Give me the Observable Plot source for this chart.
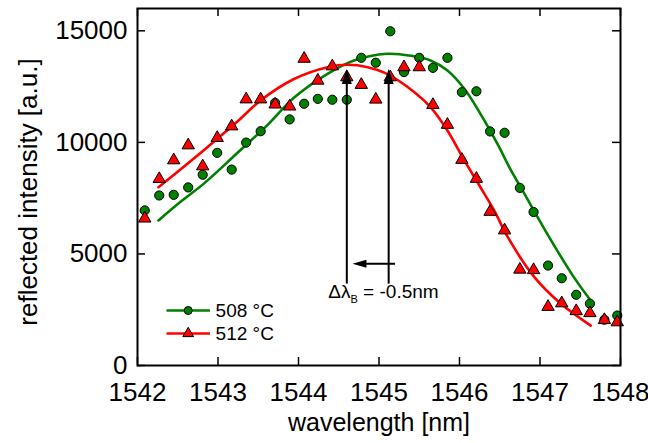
<!DOCTYPE html>
<html>
<head>
<meta charset="utf-8">
<script src="https://cdn.jsdelivr.net/npm/d3@7"></script>
<script src="https://cdn.jsdelivr.net/npm/@observablehq/plot@0.6"></script>
<style>
  html, body { margin: 0; padding: 0; background: #fff; }
  #chart { width: 648px; height: 443px; }
</style>
</head>
<body>
<div id="chart"></div>
<script>
// ---- data ----
const wavelengths = [1542.09, 1542.27, 1542.45, 1542.63, 1542.81, 1542.99, 1543.17, 1543.35, 1543.53, 1543.71,
  1543.89, 1544.07, 1544.24, 1544.42, 1544.60, 1544.78, 1544.96, 1545.14, 1545.31, 1545.50,
  1545.67, 1545.85, 1546.03, 1546.21, 1546.38, 1546.56, 1546.75, 1546.92, 1547.10, 1547.27,
  1547.45, 1547.62, 1547.80, 1547.96];
const intensity508 = [6950, 7620, 7650, 7980, 8550, 9530, 8780, 9990, 10500, 11770,
  11030, 11730, 11950, 11910, 11910, 13790, 13570, 14980, 13150, 13790,
  13340, 13790, 12250, 12290, 10490, 10430, 7960, 6880, 4480, 3910,
  3170, 2770, 2050, 2240];
const intensity512 = [6590, 8360, 9200, 9870, 8930, 10200, 10720, 11930, 11930, 11700,
  11610, 13750, 12770, 13410, 12920, 12580, 11920, 12920, 13370, 13370,
  11680, 10790, 9220, 8370, 6890, 6060, 4300, 4280, 2630, 2790,
  2440, 2350, 2040, 1940];

const fit508X = [1542.26, 1542.55, 1542.82, 1543.23, 1543.60, 1543.95, 1544.36, 1544.69, 1545.10, 1545.40,
  1545.64, 1545.85, 1546.06, 1546.26, 1546.47, 1546.64, 1546.76, 1547.09, 1547.42, 1547.63];
const fit508Y = [6500, 7380, 8140, 9490, 10730, 12020, 13070, 13670, 13970, 13880,
  13670, 13220, 12400, 11280, 9940, 8740, 7990, 5900, 3960, 2910];
const fit512X = [1542.26, 1542.82, 1543.23, 1543.53, 1543.95, 1544.36, 1544.61, 1544.86, 1545.08, 1545.44,
  1545.64, 1545.85, 1546.06, 1546.26, 1546.43, 1546.60, 1546.93, 1547.26, 1547.63];
const fit512Y = [7990, 9640, 10900, 11880, 12850, 13370, 13480, 13370, 13100, 12250,
  11580, 10530, 9190, 7990, 6950, 5750, 3960, 2765, 1790];

const xTicks = [1542, 1543, 1544, 1545, 1546, 1547, 1548];
const yTicks = [0, 5000, 10000, 15000];
const seriesNames = ["508 °C", "512 °C"];
const xLabel = "wavelength [nm]";
const yLabel = "reflected intensity [a.u.]";
const annotText = "ΔλB = -0.5nm";

// annotation anchors (data units)
const peakArrows = [{x: 1544.60, y1: 4030, y2: 13290}, {x: 1545.12, y1: 4030, y2: 13290}];
const shiftArrow = {x1: 1545.10, x2: 1544.67, y: 4560};
const annotAnchor = {x: 1544.37, y: 3290};
const legendRows = [
  {name: seriesNames[0], x1: 1542.36, x2: 1542.90, xm: 1542.63, xt: 1542.97, y: 2465},
  {name: seriesNames[1], x1: 1542.36, x2: 1542.90, xm: 1542.63, xt: 1542.97, y: 1434}
];

// ---- build tables ----
const pts508 = wavelengths.map((w, i) => ({w, v: intensity508[i]}));
const pts512 = wavelengths.map((w, i) => ({w, v: intensity512[i]}));
const fit508 = fit508X.map((w, i) => ({w, v: fit508Y[i]}));
const fit512 = fit512X.map((w, i) => ({w, v: fit512Y[i]}));

const GREEN = "#008000", RED = "#ff0000";
const W = 648, H = 443, ML = 137, MR = 28, MT = 8, MB = 78;
const PW = W - ML - MR, PH = H - MT - MB;

const headUp = { draw(ctx) { ctx.moveTo(0, 0); ctx.lineTo(-5, 15); ctx.lineTo(5, 15); ctx.closePath(); } };
const headLeft = { draw(ctx) { ctx.moveTo(0, 0); ctx.lineTo(14, -4); ctx.lineTo(14, 4); ctx.closePath(); } };

const chart = Plot.plot({
  width: W, height: H,
  marginLeft: ML, marginRight: MR, marginTop: MT, marginBottom: MB,
  style: {fontFamily: "'Liberation Sans', Arial, sans-serif", fontSize: "26px", background: "#fff", color: "#000"},
  x: {domain: [1542, 1548]},
  y: {domain: [0, 16000]},
  marks: [
    // axes labels
    Plot.axisX({ticks: xTicks, anchor: "bottom", tickSize: 0, tickPadding: 17, fontSize: 26, tickFormat: d => String(d), label: null}),
    Plot.axisY({ticks: yTicks, anchor: "left", tickSize: 0, tickPadding: 10, fontSize: 26, tickFormat: d => String(d), label: null}),
    // inward ticks on all four sides
    Plot.tickX(xTicks, {x: d => d, insetTop: PH - 8, stroke: "#000", strokeWidth: 1.5}),
    Plot.tickX(xTicks, {x: d => d, insetBottom: PH - 8, stroke: "#000", strokeWidth: 1.5}),
    Plot.tickY(yTicks, {y: d => d, insetRight: PW - 8, stroke: "#000", strokeWidth: 1.5}),
    Plot.tickY(yTicks, {y: d => d, insetLeft: PW - 8, stroke: "#000", strokeWidth: 1.5}),
    // fit curves
    Plot.line(fit508, {x: "w", y: "v", stroke: GREEN, strokeWidth: 2.6, curve: "catmull-rom"}),
    Plot.line(fit512, {x: "w", y: "v", stroke: RED, strokeWidth: 2.6, curve: "catmull-rom"}),
    // data points
    Plot.dot(pts508, {x: "w", y: "v", r: 4.6, fill: GREEN, stroke: "#000", strokeWidth: 1}),
    Plot.dot(pts512, {x: "w", y: "v", r: 4.6, symbol: "triangle", fill: RED, stroke: "#000", strokeWidth: 1}),
    // peak arrows
    Plot.link(peakArrows, {x1: "x", x2: "x", y1: "y1", y2: "y2", stroke: "#000", strokeWidth: 2, dy: 8}),
    Plot.dot(peakArrows, {x: "x", y: "y2", symbol: headUp, fill: "#000", stroke: "none"}),
    // shift arrow
    Plot.link([shiftArrow], {x1: "x1", x2: "x2", y1: "y", y2: "y", stroke: "#000", strokeWidth: 2, dx: 8}),
    Plot.dot([shiftArrow], {x: "x2", y: "y", symbol: headLeft, fill: "#000", stroke: "none"}),
    // annotation text
    Plot.text([annotAnchor], {x: "x", y: "y", text: () => annotText, textAnchor: "start", lineAnchor: "middle", fontSize: 19, fill: "#000"}),
    // legend
    Plot.link(legendRows.slice(0, 1), {x1: "x1", x2: "x2", y1: "y", y2: "y", stroke: GREEN, strokeWidth: 2.6}),
    Plot.link(legendRows.slice(1, 2), {x1: "x1", x2: "x2", y1: "y", y2: "y", stroke: RED, strokeWidth: 2.6}),
    Plot.dot(legendRows.slice(0, 1), {x: "xm", y: "y", r: 4, fill: GREEN, stroke: "#000", strokeWidth: 1}),
    Plot.dot(legendRows.slice(1, 2), {x: "xm", y: "y", r: 4, symbol: "triangle", fill: RED, stroke: "#000", strokeWidth: 1}),
    Plot.text(legendRows, {x: "xt", y: "y", text: "name", textAnchor: "start", lineAnchor: "middle", fontSize: 19, fill: "#000"}),
    // axis titles
    Plot.text([xLabel], {frameAnchor: "bottom", text: d => d, dy: 57, textAnchor: "middle", lineAnchor: "middle", fontSize: 25, fill: "#000"}),
    Plot.text([yLabel], {frameAnchor: "left", text: d => d, rotate: -90, dx: -109, dy: 5, textAnchor: "middle", lineAnchor: "middle", fontSize: 26, fill: "#000"}),
    // frame
    Plot.frame({stroke: "#000", strokeWidth: 2})
  ]
});

// subscript B in the annotation
d3.select(chart).selectAll("text").filter(function () { return this.textContent === annotText; })
  .each(function () {
    const t = d3.select(this);
    t.text(null);
    t.append("tspan").text("Δλ");
    t.append("tspan").attr("font-size", 11).attr("dy", 5).text("B");
    t.append("tspan").attr("dy", -5).text(" = -0.5nm");
  });

document.getElementById("chart").appendChild(chart);
</script>
</body>
</html>
